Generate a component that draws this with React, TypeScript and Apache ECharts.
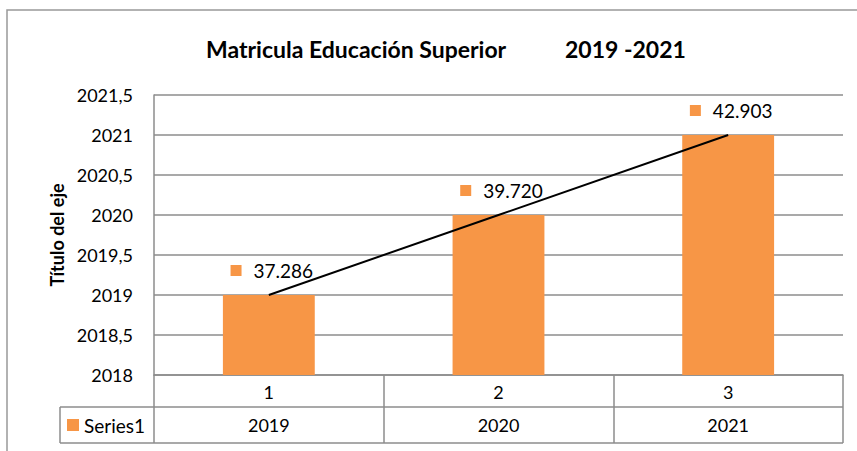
import React, { useEffect, useRef } from "react";
import * as echarts from "echarts";

const categories = ["1", "2", "3"];
const years = ["2019", "2020", "2021"];
const barValues = [2019, 2020, 2021];
const dataLabels = ["37.286", "39.720", "42.903"];
const trendValues = [2019, 2020, 2021];
const yTicks = { min: 2018, max: 2021.5, interval: 0.5 };
const seriesName = "Series1";
const titleMain = "Matricula Educación Superior";
const titleYears = "2019 -2021";
const yAxisTitle = "Título del eje";

const ORANGE = "#F79646";
const GRID = "#8c8c8c";
const FONT = "Lato, 'Open Sans', sans-serif";

export default function App() {
  const ref = useRef<HTMLDivElement>(null);
  useEffect(() => {
    if (!ref.current) return;
    const chart = echarts.init(ref.current, undefined, { renderer: "svg" });
    const L = 154, T = 95, W = 689, H = 280;
    chart.setOption({
      animation: false,
      textStyle: { fontFamily: FONT },
      title: [
        { text: titleMain, left: 201, top: 32, textStyle: { fontFamily: FONT, fontWeight: "bold", fontSize: 23, color: "#000" } },
        { text: titleYears, left: 560, top: 32, textStyle: { fontFamily: FONT, fontWeight: "bold", fontSize: 23, color: "#000" } },
      ],
      grid: { left: L, top: T, width: W, height: H },
      xAxis: [
        {
          type: "category",
          data: categories,
          position: "bottom",
          axisLine: { show: true, lineStyle: { color: GRID, width: 1.5 } },
          axisTick: { show: true, length: 68, lineStyle: { color: GRID, width: 1.5 } },
          axisLabel: { color: "#000", fontSize: 18, margin: 8, fontFamily: FONT },
        },
        {
          type: "category",
          data: years,
          position: "bottom",
          offset: 32,
          axisLine: { show: false },
          axisTick: { show: false },
          axisLabel: { color: "#000", fontSize: 18, margin: 9, fontFamily: FONT },
        },
      ],
      yAxis: {
        type: "value",
        min: yTicks.min,
        max: yTicks.max,
        interval: yTicks.interval,
        name: yAxisTitle,
        nameLocation: "middle",
        nameGap: 88,
        nameTextStyle: { fontFamily: FONT, fontWeight: "bold", fontSize: 18, color: "#000" },
        axisLine: { show: true, lineStyle: { color: GRID, width: 1.5 } },
        axisTick: { show: false },
        splitLine: { lineStyle: { color: GRID, width: 1.5 } },
        axisLabel: {
          color: "#000",
          fontSize: 18,
          margin: 21,
          fontFamily: FONT,
          formatter: (v: number) => String(v).replace(".", ","),
        },
      },
      series: [
        {
          name: seriesName,
          type: "bar",
          data: barValues,
          barWidth: "40%",
          itemStyle: { color: ORANGE },
          label: {
            show: true,
            position: "top",
            distance: 15,
            offset: [3, 0],
            formatter: (p: any) => `{sq|}{gap|}{v|${dataLabels[p.dataIndex]}}`,
            rich: {
              sq: { width: 11, height: 11, backgroundColor: ORANGE },
              gap: { width: 12, height: 11 },
              v: { fontSize: 19, color: "#000", fontFamily: FONT },
            },
          },
        },
        {
          name: "trend",
          type: "line",
          data: trendValues,
          symbol: "none",
          lineStyle: { color: "#000", width: 2 },
          z: 5,
        },
      ],
      graphic: [
        { type: "rect", shape: { x: 7, y: 10, width: 900, height: 500 }, style: { fill: "none", stroke: "#999", lineWidth: 1.5 }, silent: true },
        { type: "line", shape: { x1: 60, y1: 407, x2: L + W, y2: 407 }, style: { stroke: GRID, lineWidth: 1.5 } },
        { type: "line", shape: { x1: 60, y1: 443, x2: L + W, y2: 443 }, style: { stroke: GRID, lineWidth: 1.5 } },
        { type: "line", shape: { x1: 60, y1: 407, x2: 60, y2: 443 }, style: { stroke: GRID, lineWidth: 1.5 } },
        { type: "rect", shape: { x: 67, y: 419, width: 12, height: 12 }, style: { fill: ORANGE } },
        { type: "text", x: 84, y: 425, style: { text: seriesName, font: `19px ${FONT}`, fill: "#000", textVerticalAlign: "middle" } },
      ],
    });
    return () => chart.dispose();
  }, []);
  return <div ref={ref} style={{ width: 857, height: 451, position: "absolute", left: 0, top: 0 }} />;
}
